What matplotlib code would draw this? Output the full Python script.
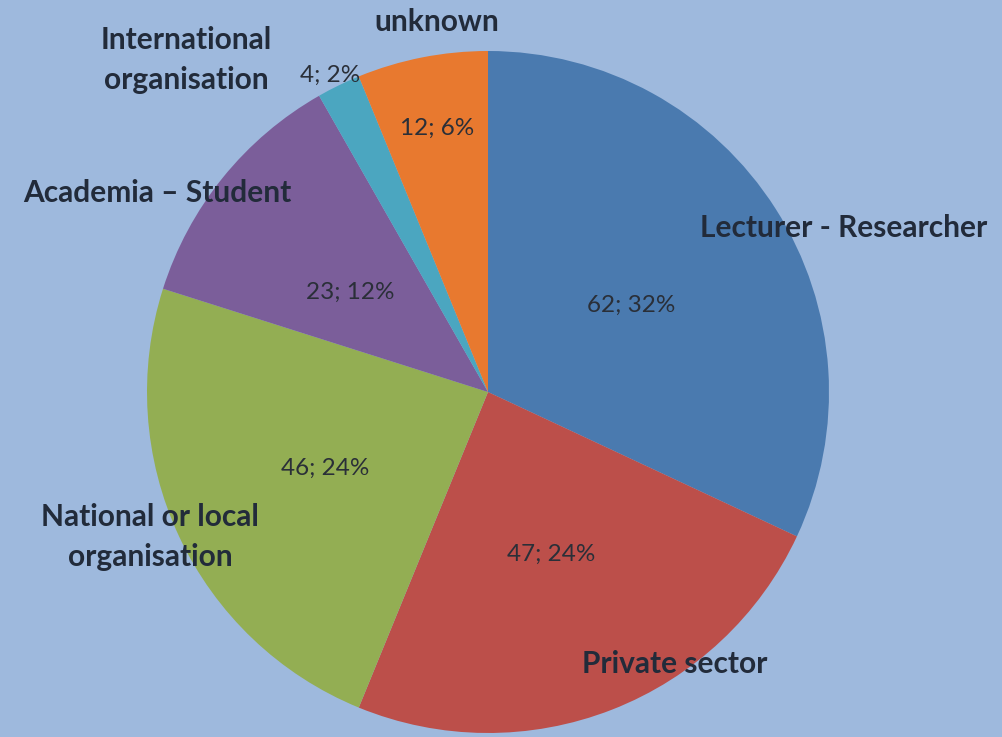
import matplotlib
matplotlib.use("Agg")
import matplotlib.pyplot as plt

categories = ["Lecturer - Researcher", "Private sector", "National or local\norganisation",
              "Academia \u2013 Student", "International\norganisation", "unknown"]
values = [62, 47, 46, 23, 4, 12]
value_labels = ["62; 32%", "47; 24%", "46; 24%", "23; 12%", "4; 2%", "12; 6%"]
colors = ["#4A7AAF", "#BC4F4A", "#93AE53", "#7B5E9A", "#4BA6C0", "#E8792F"]

W, H = 1002, 737
fig = plt.figure(figsize=(W / 100, H / 100), dpi=100)
bg = "#9EB9DD"
fig.patch.set_facecolor(bg)
ax = fig.add_axes([0, 0, 1, 1])
ax.set_facecolor(bg)

cx, cy, r = 488, H - 392, 341
ax.pie(values, colors=colors, startangle=90, counterclock=False,
       center=(cx, cy), radius=r, frame=True,
       wedgeprops=dict(linewidth=0))
ax.set_xlim(0, W)
ax.set_ylim(0, H)
ax.set_aspect("auto")
ax.axis("off")

txt = "#222B3A"
fam = ["Lato", "DejaVu Sans"]

# category label positions (pixel coords, y from top)
cat_pos = [(844, 228, "center"), (675, 664, "center"), (150, 537, "center"),
           (157, 193, "center"), (186, 60, "center"), (437, 22, "center")]
val_pos = [(631, 305), (551, 554), (325, 468), (350, 292), (330, 75), (437, 128)]

for lab, (x, y, ha) in zip(categories, cat_pos):
    ax.text(x, H - y, lab, ha=ha, va="center", fontsize=21.5, fontweight="bold",
            color=txt, family=fam, linespacing=1.55)
for lab, (x, y) in zip(value_labels, val_pos):
    ax.text(x, H - y, lab, ha="center", va="center", fontsize=17.5,
            color="#2A2F38", family=fam)

fig.savefig("out.png", dpi=100, facecolor=bg)
